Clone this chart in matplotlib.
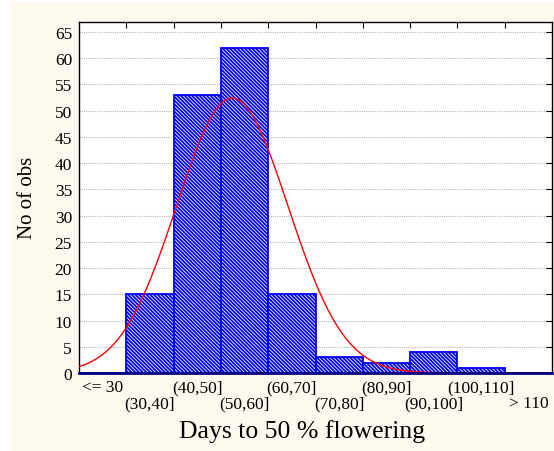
import numpy as np
import matplotlib
matplotlib.use("Agg")
import matplotlib.pyplot as plt
from matplotlib.patches import Rectangle

categories = ["<= 30", "(30,40]", "(40,50]", "(50,60]", "(60,70]",
              "(70,80]", "(80,90]", "(90,100]", "(100,110]", "> 110"]
counts = [0, 15, 53, 62, 15, 3, 2, 4, 1, 0]
bin_start = 20   # left edge of first bin (days)
bin_width = 10
fit_mean = 52.4
fit_sd = 11.8
yticks = list(range(0, 70, 5))

plt.rcParams['font.family'] = ['Liberation Serif', 'DejaVu Serif']
plt.rcParams['hatch.linewidth'] = 1.3

W, H = 554, 452
fig = plt.figure(figsize=(W / 100, H / 100), dpi=100)
fig.patch.set_facecolor('white')
fig.patches.append(Rectangle((11 / W, 0), (W - 11) / W, (H - 3) / H,
                             transform=fig.transFigure, facecolor='#fef9ee',
                             edgecolor='none', zorder=-10))

ax = fig.add_axes([79 / W, (H - 374) / H, (552 - 79) / W, (374 - 23) / H])
ax.set_facecolor('white')

x = np.arange(len(categories))
ax.bar(x, counts, width=1.0, align='edge', facecolor='white',
       edgecolor='#0000ff', hatch='\\' * 9, linewidth=1.3, zorder=3)

N = sum(counts)
days = np.linspace(bin_start, bin_start + bin_width * len(categories), 400)
pdf = N * bin_width / (fit_sd * np.sqrt(2 * np.pi)) * np.exp(-0.5 * ((days - fit_mean) / fit_sd) ** 2)
ax.plot((days - bin_start) / bin_width, pdf, color='#ff0000', linewidth=1.0, zorder=4)

ax.set_xlim(0, len(categories))
ax.set_ylim(0, 66.9)
ax.set_yticks(yticks)
ax.set_yticklabels([str(v) for v in yticks], fontsize=12.5)
ax.yaxis.grid(True, linestyle=(0, (1, 1)), color='#b8b8b8', linewidth=0.8, zorder=0)
ax.tick_params(axis='y', left=False, right=True, direction='in', length=4, pad=5)

ax.set_xticks(np.arange(1, len(categories)))
ax.tick_params(axis='x', bottom=False, top=True, direction='in', length=4,
               labelbottom=False)

for s in ['top', 'left', 'right']:
    ax.spines[s].set_color('black')
    ax.spines[s].set_linewidth(1.0)
ax.spines['bottom'].set_color('#000080')
ax.spines['bottom'].set_linewidth(2.0)
ax.spines['bottom'].set_zorder(5)

trans = ax.get_xaxis_transform()
for i, lab in enumerate(categories):
    yoff = -14 if i % 2 == 0 else -30
    ax.annotate(lab, xy=(i + 0.5, 0), xycoords=trans, xytext=(0, yoff * 0.72),
                textcoords='offset points', ha='center', va='center', fontsize=12.5)

fig.text(302 / W, 1 - 432 / H, "Days to 50 % flowering", ha='center', va='center', fontsize=18.5)
fig.text(28 / W, 1 - 198 / H, "No of obs", ha='center', va='center', rotation=90, fontsize=15)

fig.savefig("out.png", dpi=100)
